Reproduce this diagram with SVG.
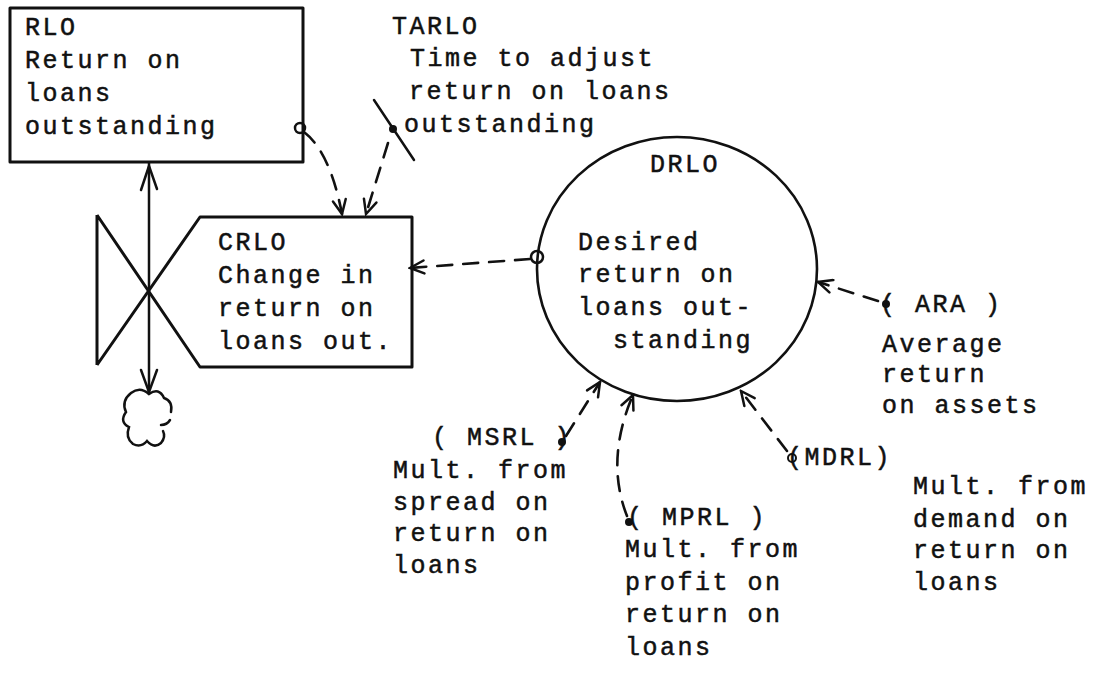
<svg xmlns="http://www.w3.org/2000/svg" width="1103" height="683" viewBox="0 0 1103 683">
  <style>
    .t { font-family: "Liberation Mono", "DejaVu Sans Mono", monospace; font-size: 25px; letter-spacing: 2.5px; fill: #111; stroke: #111; stroke-width: 0.5px; }
    .box { fill: none; stroke: #111; stroke-width: 3; stroke-linejoin: round; }
    .thin { fill: none; stroke: #111; stroke-width: 2.5; stroke-linecap: round; }
    .dash { fill: none; stroke: #111; stroke-width: 2.6; stroke-dasharray: 15 11; stroke-linecap: round; marker-end: url(#arr); }
    .head { fill: none; stroke: #111; stroke-width: 2.5; stroke-linecap: round; stroke-linejoin: round; }
  </style>
  <defs>
    <marker id="arr" viewBox="-16 -8 18 16" refX="0" refY="0" markerWidth="18" markerHeight="16" markerUnits="userSpaceOnUse" orient="auto">
      <path d="M -14 -6.5 L 0 0 L -14 6.5" fill="none" stroke="#111" stroke-width="2.5" stroke-linecap="round"/>
    </marker>
  </defs>
  <rect width="1103" height="683" fill="#fff"/>

  <!-- level: return on loans outstanding -->
  <g id="RLO">
    <rect class="box" x="10" y="8" width="293" height="154"/>
    <text class="t" x="25" y="35">RLO</text>
    <text class="t" x="25" y="68">Return on</text>
    <text class="t" x="25" y="101">loans</text>
    <text class="t" x="25" y="134">outstanding</text>
  </g>

  <!-- rate: change in return on loans outstanding -->
  <g id="CRLO">
    <path class="box" d="M 97 215 L 97 365 M 97 215 L 200 367 L 412 367 L 412 217 L 200 217 L 97 365"/>
    <text class="t" x="218" y="250">CRLO</text>
    <text class="t" x="218" y="283">Change in</text>
    <text class="t" x="218" y="316">return on</text>
    <text class="t" x="218" y="349">loans out.</text>
  </g>

  <!-- sink cloud -->
  <g id="sink">
    <path class="thin" d="M 149 394 Q 140 386 131 393 Q 121 401 126 412 Q 119 422 129 427 Q 125 438 133 444 Q 141 448 147 441 Q 154 449 161 443 Q 166 437 163 431"/>
    <path class="thin" d="M 149 394 Q 159 387 164 398 Q 173 401 171 412"/>
    <path class="thin" d="M 161 425 Q 167 425 170 420"/>
  </g>

  <!-- auxiliary: desired return on loans outstanding -->
  <g id="DRLO">
    <ellipse cx="677" cy="269" rx="140" ry="132" fill="none" stroke="#111" stroke-width="2.6"/>
    <text class="t" x="650" y="172">DRLO</text>
    <text class="t" x="578" y="250">Desired</text>
    <text class="t" x="578" y="282">return on</text>
    <text class="t" x="578" y="315">loans out-</text>
    <text class="t" x="613" y="348">standing</text>
  </g>

  <g id="TARLO">
    <text class="t" x="392" y="34">TARLO</text>
    <text class="t" x="410" y="66">Time to adjust</text>
    <text class="t" x="409" y="99">return on loans</text>
    <text class="t" x="404" y="132">outstanding</text>
  </g>

  <g id="ARA">
    <text class="t" x="880" y="312">( ARA )</text>
    <text class="t" x="882" y="352">Average</text>
    <text class="t" x="882" y="382">return</text>
    <text class="t" x="882" y="413">on assets</text>
  </g>

  <g id="MSRL">
    <text class="t" x="432" y="445">( MSRL )</text>
    <text class="t" x="393" y="478">Mult. from</text>
    <text class="t" x="393" y="510">spread on</text>
    <text class="t" x="393" y="541">return on</text>
    <text class="t" x="393" y="573">loans</text>
  </g>

  <g id="MPRL">
    <text class="t" x="627" y="525">( MPRL )</text>
    <text class="t" x="625" y="557">Mult. from</text>
    <text class="t" x="625" y="590">profit on</text>
    <text class="t" x="625" y="622">return on</text>
    <text class="t" x="625" y="655">loans</text>
  </g>

  <g id="MDRL">
    <text class="t" x="787" y="465">(MDRL)</text>
    <text class="t" x="913" y="494">Mult. from</text>
    <text class="t" x="913" y="527">demand on</text>
    <text class="t" x="913" y="558">return on</text>
    <text class="t" x="913" y="590">loans</text>
  </g>

  <g id="connectors">
    <!-- material flow from the level through the valve to the sink -->
    <line class="thin" x1="149" y1="163" x2="149" y2="392"/>
    <path class="head" d="M 141 190 L 149 166 L 157 189"/>
    <path class="head" d="M 141 370 L 149 392 L 157 370"/>

    <!-- information links -->
    <circle cx="300" cy="128" r="5" fill="none" stroke="#111" stroke-width="2.5"/>
    <path class="dash" d="M 304 132 Q 330 152 342 214"/>

    <line class="thin" x1="374" y1="100" x2="414" y2="160"/>
    <circle cx="393" cy="129" r="4" fill="#111"/>
    <path class="dash" d="M 388 143 L 366 214"/>

    <circle cx="537" cy="257" r="6" fill="none" stroke="#111" stroke-width="2.5"/>
    <path class="dash" d="M 530 259 L 410 268"/>

    <circle cx="886" cy="304" r="4" fill="#111"/>
    <path class="dash" d="M 878 301 L 818 282"/>

    <circle cx="562" cy="442" r="4" fill="#111"/>
    <path class="dash" d="M 566 436 L 600 382"/>

    <circle cx="629" cy="522" r="4" fill="#111"/>
    <path class="dash" d="M 627 516 Q 605 460 633 395"/>

    <circle cx="792" cy="458" r="4" fill="none" stroke="#111" stroke-width="2"/>
    <path class="dash" d="M 787 451 L 741 391"/>
  </g>
</svg>
